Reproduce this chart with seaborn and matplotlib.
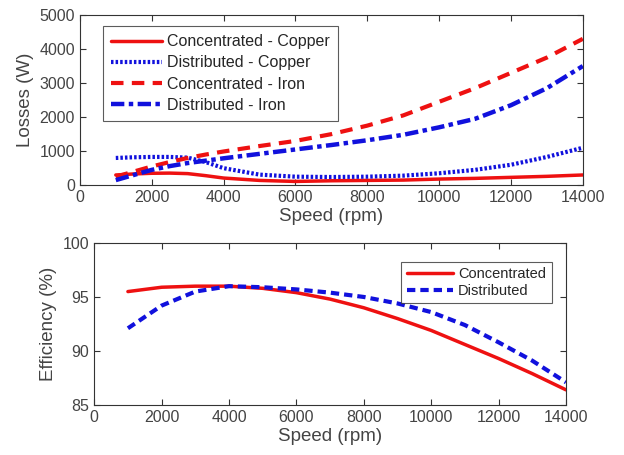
import matplotlib
matplotlib.use("Agg")
import matplotlib.pyplot as plt
import seaborn as sns
import pandas as pd

speed = [1000, 1500, 2000, 2500, 3000, 3500, 4000, 5000, 6000, 7000, 8000, 9000, 10000, 11000, 12000, 13000, 14000]
conc_copper = [300, 330, 350, 355, 340, 280, 210, 140, 110, 130, 140, 150, 180, 200, 230, 260, 300]
dist_copper = [800, 820, 830, 830, 810, 680, 500, 310, 250, 240, 250, 280, 350, 450, 600, 830, 1100]
conc_iron = [250, 400, 550, 680, 800, 900, 990, 1150, 1300, 1500, 1750, 2050, 2450, 2850, 3300, 3750, 4300]
dist_iron = [150, 300, 450, 560, 650, 720, 790, 920, 1050, 1180, 1320, 1480, 1700, 1950, 2350, 2850, 3500]

speed_eff = [1000, 2000, 3000, 4000, 5000, 6000, 7000, 8000, 9000, 10000, 11000, 12000, 13000, 14000]
eff_conc = [95.5, 95.9, 96.0, 96.0, 95.8, 95.4, 94.8, 94.0, 93.0, 91.9, 90.6, 89.3, 87.9, 86.4]
eff_dist = [92.1, 94.2, 95.5, 96.0, 95.9, 95.7, 95.4, 95.0, 94.4, 93.6, 92.4, 90.8, 89.1, 87.1]

sns.set_style("white")
plt.rcParams['font.family'] = ['Liberation Sans', 'DejaVu Sans']

fig = plt.figure(figsize=(6.24, 4.55), dpi=100)
ax1 = fig.add_axes([0.128, 0.593, 0.806, 0.374])
ax2 = fig.add_axes([0.151, 0.110, 0.756, 0.356])

red = "#ee1111"
blue = "#1111dd"
txt = "#444444"

df1 = pd.DataFrame({"speed": speed, "cc": conc_copper, "dc": dist_copper, "ci": conc_iron, "di": dist_iron})
sns.lineplot(data=df1, x="speed", y="cc", ax=ax1, color=red, lw=2.5, label="Concentrated - Copper")
sns.lineplot(data=df1, x="speed", y="dc", ax=ax1, color=blue, lw=3, label="Distributed - Copper", linestyle=(0, (0.6, 0.5)))
sns.lineplot(data=df1, x="speed", y="ci", ax=ax1, color=red, lw=3, label="Concentrated - Iron", linestyle=(0, (3, 2)))
sns.lineplot(data=df1, x="speed", y="di", ax=ax1, color=blue, lw=3.2, label="Distributed - Iron", linestyle=(0, (3, 1, 1, 1)))

df2 = pd.DataFrame({"speed": speed_eff, "c": eff_conc, "d": eff_dist})
sns.lineplot(data=df2, x="speed", y="c", ax=ax2, color=red, lw=2.5, label="Concentrated")
sns.lineplot(data=df2, x="speed", y="d", ax=ax2, color=blue, lw=3, label="Distributed", linestyle=(0, (2, 1.2)))

for ax in (ax1, ax2):
    ax.set_xlim(0, 14000)
    ax.set_xticks(range(0, 14001, 2000))
    ax.tick_params(direction="in", length=4, color="#333333", labelsize=11.5, labelcolor=txt,
                   top=True, right=True, bottom=True, left=True)
    for s in ax.spines.values():
        s.set_color("#333333")
        s.set_linewidth(0.8)
    ax.set_xlabel("Speed (rpm)", fontsize=13.5, color=txt, labelpad=2)

ax1.set_ylim(0, 5000)
ax1.set_yticks(range(0, 5001, 1000))
ax1.set_ylabel("Losses (W)", fontsize=13.5, color=txt)
ax2.set_ylim(85, 100)
ax2.set_yticks([85, 90, 95, 100])
ax2.set_ylabel("Efficiency (%)", fontsize=13.5, color=txt)

leg1 = ax1.legend(loc="upper left", bbox_to_anchor=(0.03, 0.98), fontsize=11.5, frameon=True, fancybox=False,
                  edgecolor="#333333", handlelength=3.2, handletextpad=0.3, borderpad=0.5, labelspacing=0.38)
leg1.get_frame().set_linewidth(0.8)
leg2 = ax2.legend(loc="upper right", bbox_to_anchor=(0.985, 0.93), fontsize=10.5, frameon=True, fancybox=False,
                  edgecolor="#333333", handlelength=3.2, handletextpad=0.3, borderpad=0.4, labelspacing=0.15)
leg2.get_frame().set_linewidth(0.8)

fig.savefig("out.png", dpi=100, facecolor="white")
